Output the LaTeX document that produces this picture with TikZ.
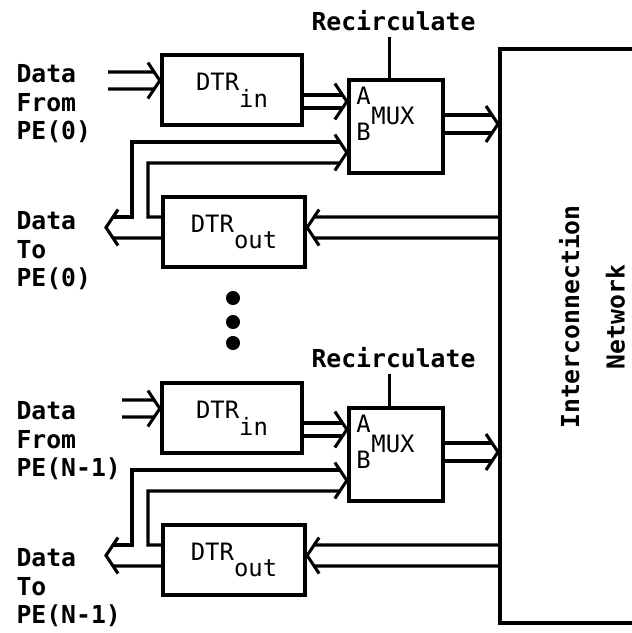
\documentclass[tikz,border=0pt]{standalone}
\usepackage{fontspec}
\setmonofont{DejaVu Sans Mono}
\usetikzlibrary{calc}
\tikzset{
  every picture/.style={line width=2.2pt},
  blk/.style={draw, line width=3pt, minimum width=#1, minimum height=1.75cm},
  wire/.style={line width=2.2pt},
  lab/.style={font=\ttfamily\bfseries\fontsize{17.6}{20.3}\selectfont, align=left, inner sep=0pt},
  boxtext/.style={font=\ttfamily\fontsize{17}{19}\selectfont, inner sep=0pt},
}
% open chevron at #1, pointing right (#2=1) or left (#2=-1)
\newcommand{\chev}[2]{\draw[wire] ([shift={({-(#2)*12},-18)}]#1) -- (#1) -- ([shift={({-(#2)*12},18)}]#1);}
% two-wire bus from #1 to #2, half gap #3, arrow direction #4
\newcommand{\bus}[4]{%
  \draw[wire] ([shift={(0,-#3)}]#1) -- ([shift={({-(#4)*(#3)*2/3},-#3)}]#2);
  \draw[wire] ([shift={(0,#3)}]#1) -- ([shift={({-(#4)*(#3)*2/3},#3)}]#2);
  \chev{#2}{#4}}

\begin{document}
\begin{tikzpicture}[x=0.025cm, y=-0.025cm]
  \useasboundingbox (0,0) rectangle (632,633);
  \clip (0,0) rectangle (632,633);
  % interconnection network, cut off at the right edge
  \node[draw, line width=3pt, anchor=north west, minimum width=5cm, minimum height=14.35cm] (net) at (498,47) {};
  \node[lab, align=center, rotate=90, font=\ttfamily\bfseries\fontsize{17.6}{32.5}\selectfont] (netlab) at (592,317) {Interconnection\\Network};

  \foreach \i/\dy/\dl/\xs/\pe in {0/0/0/108/0, 1/328/337/122/N-1}{
    % blocks
    \node[blk=3.5cm, boxtext] (din\i) at (232,{90+\dy}) {DTR\raisebox{-12pt}{in}};
    \node[blk=3.55cm, boxtext] (dout\i) at (234,{232+\dy}) {DTR\raisebox{-12pt}{out}};
    \node[blk=2.35cm, minimum height=2.325cm] (mux\i) at (396,{126.5+\dy}) {};
    \node[boxtext, anchor=base west] (ma\i) at ([shift={(8,27)}]mux\i.north west) {A};
    \node[boxtext, anchor=base west] (mm\i) at ([shift={(23,47)}]mux\i.north west) {MUX};
    \node[boxtext, anchor=base west] (mb\i) at ([shift={(8,63)}]mux\i.north west) {B};
    % labels
    \node[lab, anchor=north west] (src\i) at (15,{63+\dl}) {Data\\From\\PE(\pe)};
    \node[lab, anchor=north west] (dst\i) at (15,{210+\dl}) {Data\\To\\PE(\pe)};
    \node[lab, anchor=base] (rec\i) at (393.5,{30+\dl}) {Recirculate};
    % ports
    \coordinate (inb\i) at (\xs,{80.5+\dy});
    \coordinate (pe\i) at (106,{227.5+\dy});
    \coordinate (fbo\i) at (132,{142+\dy});
    \coordinate (fbi\i) at (148,{163+\dy});
    \coordinate (dinw\i) at ([shift={(0,-9.5)}]din\i.west);
    \coordinate (dine\i) at ([shift={(0,11.5)}]din\i.east);
    \coordinate (doute\i) at ([shift={(0,-4.5)}]dout\i.east);
    \coordinate (muxa\i) at ([shift={(0,-25)}]mux\i.west);
    \coordinate (muxb\i) at ([shift={(0,26)}]mux\i.west);
    \coordinate (muxe\i) at ([shift={(0,-2.5)}]mux\i.east);
    \coordinate (neti\i) at (498,{124+\dy});
    \coordinate (neto\i) at (498,{227.5+\dy});
    \coordinate (rl\i) at ([shift={(-4,5)}]rec\i.south);
    % buses
    \bus{inb\i}{dinw\i}{8.5}{1}
    \bus{dine\i}{muxa\i}{6.5}{1}
    \bus{muxe\i}{neti\i}{9}{1}
    \bus{neto\i}{doute\i}{10.5}{-1}
    % output to PE and recirculation path to B
    \draw[wire] ([shift={(0,6)}]dout\i.west) -- ([shift={(7,10.5)}]pe\i);
    \draw[wire] ([shift={(7,-10.5)}]pe\i) -| (fbo\i) -- ([shift={(-7,-10.5)}]muxb\i);
    \draw[wire] ([shift={(0,-15)}]dout\i.west) -| (fbi\i) -- ([shift={(-7,10.5)}]muxb\i);
    \chev{pe\i}{-1}
    \chev{muxb\i}{1}
    \draw[wire] (rl\i) -- (rl\i |- mux\i.north);
  }
  % more PEs in between
  \foreach \y in {298,322,343} \fill (233,\y) circle (5pt);
\end{tikzpicture}
\end{document}
